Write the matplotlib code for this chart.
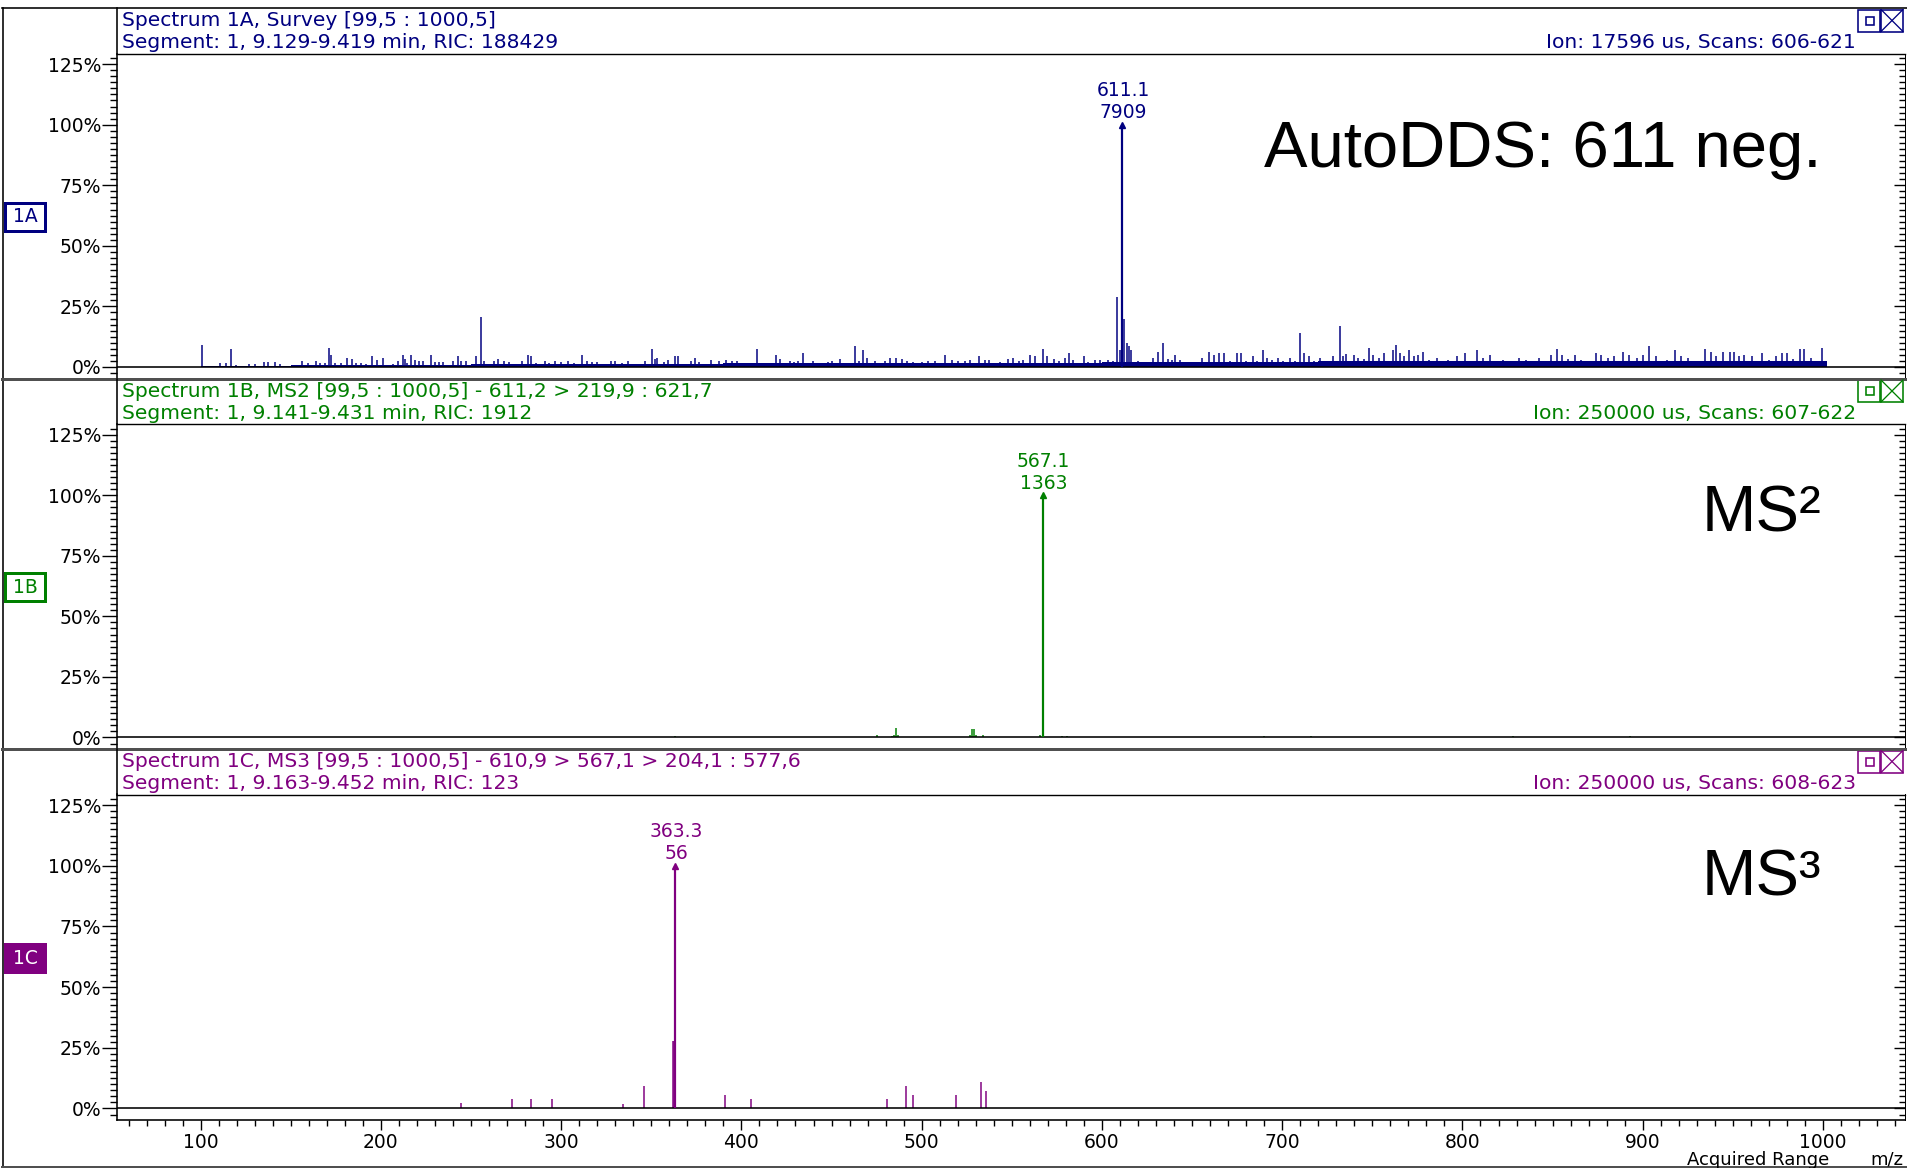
import matplotlib
matplotlib.use("Agg")
import matplotlib.pyplot as plt
from matplotlib.patches import Rectangle
from matplotlib.ticker import MultipleLocator, FuncFormatter, NullLocator

plt.rcParams['font.family'] = ['DejaVu Sans']

# figure size in pixels (saved at 100 dpi)
W, H = 1907, 1168

navy = "#000080"
green = "#008000"
purple = "#800080"
colors = [navy, green, purple]

tags = ["1A", "1B", "1C"]
titles = ["Spectrum 1A, Survey [99,5 : 1000,5]",
          "Spectrum 1B, MS2 [99,5 : 1000,5] - 611,2 > 219,9 : 621,7",
          "Spectrum 1C, MS3 [99,5 : 1000,5] - 610,9 > 567,1 > 204,1 : 577,6"]
segments = ["Segment: 1, 9.129-9.419 min, RIC: 188429",
            "Segment: 1, 9.141-9.431 min, RIC: 1912",
            "Segment: 1, 9.163-9.452 min, RIC: 123"]
ion_info = ["Ion: 17596 us, Scans: 606-621",
            "Ion: 250000 us, Scans: 607-622",
            "Ion: 250000 us, Scans: 608-623"]
big_labels = ["AutoDDS: 611 neg.", "MS²", "MS³"]
big_label_y = [167, 532, 895]

# base peak of each spectrum (m/z, counts), drawn at 100 %
base_mz = [611.1, 567.1, 363.3]
base_counts = [7909, 1363, 56]

# survey scan (1A), relative intensity in %
survey_mz = [100.7, 110.9, 114.0, 116.6, 119.4, 126.8, 130.0, 135.3, 137.4, 141.0,
             143.8, 150.7, 156.2, 159.3, 164.0, 166.0, 169.2, 171.2, 172.5, 174.5,
             177.8, 181.0, 184.0, 186.3, 188.8, 192.0, 195.2, 198.0, 201.1, 203.9,
             206.8, 209.6, 212.0, 213.2, 214.5, 216.7, 218.7, 221.3, 223.4, 227.6,
             229.8, 232.5, 234.4, 240.0, 242.5, 244.2, 247.2, 252.5, 255.3, 257.0,
             259.5, 262.7, 265.2, 268.4, 271.2, 275.5, 278.2, 281.4, 283.3, 286.0,
             291.0, 293.4, 296.7, 299.9, 303.7, 307.3, 311.5, 314.3, 316.9, 320.0,
             327.5, 329.6, 333.8, 337.0, 340.2, 346.6, 350.4, 351.9, 353.4, 357.2,
             359.3, 363.1, 365.0, 368.8, 372.0, 374.5, 376.3, 383.1,
             387.5, 391.7, 394.9, 397.4, 404.4, 408.5, 415.1, 419.3, 421.4, 423.6,
             426.7, 428.9, 431.4, 434.0, 439.5, 442.0, 448.0, 450.1, 454.8, 458.6,
             462.8, 465.4, 467.7, 469.8, 473.9, 479.8, 482.6, 485.8, 489.0, 491.9,
             495.1, 500.0, 503.6, 507.4, 509.5, 513.1, 517.0, 520.1, 523.8, 526.9,
             532.0, 535.0, 537.6, 543.5, 547.7, 550.9, 554.1, 556.2, 560.1, 562.6,
             567.5, 569.4, 573.2, 576.4, 579.6, 581.7, 583.8, 589.8, 592.3, 596.2,
             599.1, 603.4, 606.1, 608.3, 610.0, 612.1, 614.0, 615.0, 616.3, 619.9,
             623.1, 625.9, 628.4, 631.0, 633.7, 636.5, 638.6, 640.7, 643.3, 649.6,
             655.6, 659.6, 662.4, 664.9, 667.7, 670.9, 675.1, 677.3, 679.8, 683.6,
             686.2, 689.4, 691.5, 694.2, 697.4, 700.6, 704.2, 707.0, 710.0, 712.3,
             715.0, 717.6,
             721.0, 723.5, 725.6, 728.1, 731.8, 733.5, 735.6, 739.8, 742.3, 745.4,
             748.1, 750.6, 753.8, 756.5, 759.0, 761.5, 763.1, 765.2, 767.7, 770.5,
             773.2, 775.3, 778.2, 781.5, 786.1, 792.0, 797.0, 801.2, 804.5, 808.0,
             811.2, 815.3, 819.5, 822.7, 827.5, 831.4, 835.2, 839.4, 842.5, 849.2,
             852.3, 855.4, 858.8, 862.3, 865.5, 869.6, 874.2, 876.9, 880.5, 884.3,
             888.9, 892.6, 896.8, 900.1, 903.7, 907.2, 913.5, 917.7, 921.4, 925.0,
             930.6, 934.4, 938.1, 940.6, 944.4, 948.6, 950.6, 953.2, 956.3, 960.5,
             966.3, 969.9, 974.0, 977.4, 980.3, 983.4, 987.0, 989.7, 993.2, 997.0,
             999.7, 1001.2]
survey_int = [9.2, 1.6, 1.6, 7.4, 1.0, 1.4, 1.4, 1.9, 1.9, 1.9,
              1.4, 0.8, 2.6, 1.6, 2.6, 1.6, 1.6, 8.0, 5.1, 1.6,
              1.6, 3.7, 3.3, 1.6, 1.6, 1.4, 4.4, 3.0, 3.7, 1.0,
              1.4, 2.3, 5.0, 3.3, 1.6, 5.0, 3.0, 2.6, 2.6, 5.0,
              1.9, 1.9, 1.9, 2.6, 4.4, 2.3, 2.3, 4.4, 20.7, 2.3,
              1.4, 2.3, 3.3, 2.6, 1.9, 1.4, 2.6, 5.0, 4.4, 1.6,
              2.3, 1.6, 2.6, 1.9, 2.6, 1.6, 5.0, 2.3, 1.9, 1.9,
              2.3, 2.3, 1.6, 2.3, 1.4, 2.3, 7.4, 3.3, 3.7, 1.9,
              3.0, 4.4, 4.4, 1.4, 2.3, 3.7, 1.9, 3.0,
              2.6, 3.0, 2.3, 2.6, 1.4, 7.4, 1.0, 5.0, 3.3, 1.6,
              2.6, 1.9, 2.6, 5.8, 2.6, 1.4, 1.9, 2.6, 3.3, 1.6,
              8.5, 2.3, 6.9, 3.7, 2.6, 2.3, 3.7, 3.7, 3.3, 2.6,
              1.9, 1.9, 2.6, 2.3, 1.6, 5.0, 3.0, 2.3, 2.6, 3.0,
              4.4, 3.0, 3.0, 1.9, 3.3, 3.7, 2.6, 3.0, 5.0, 4.4,
              7.4, 4.4, 3.3, 2.3, 3.7, 5.8, 3.0, 4.4, 1.9, 3.0,
              3.0, 3.0, 2.6, 28.9, 6.9, 20.0, 9.9, 8.8, 6.9, 2.3,
              1.4, 1.9, 3.7, 6.3, 9.9, 3.3, 3.0, 5.0, 3.0, 1.4,
              3.7, 6.3, 5.0, 5.8, 5.8, 2.6, 5.8, 5.8, 2.6, 4.4,
              2.6, 6.9, 3.7, 3.0, 3.7, 2.6, 3.7, 2.6, 14.0, 5.8,
              4.4, 2.6,
              3.7, 2.3, 2.3, 4.4, 17.1, 4.4, 5.5, 5.0, 3.7, 3.3,
              7.9, 5.0, 3.7, 5.8, 2.3, 6.9, 9.2, 5.8, 4.4, 6.9,
              4.4, 5.0, 6.3, 3.0, 3.7, 3.0, 4.4, 5.8, 2.6, 6.9,
              3.7, 5.0, 2.3, 3.0, 2.6, 3.7, 3.0, 2.3, 3.7, 5.0,
              7.4, 5.0, 3.3, 5.0, 3.0, 2.3, 5.8, 5.0, 3.7, 4.4,
              6.3, 5.0, 3.7, 5.0, 8.5, 4.4, 3.0, 6.9, 4.4, 3.7,
              2.6, 7.4, 6.3, 4.4, 6.3, 6.3, 6.3, 4.4, 5.0, 4.4,
              5.8, 3.0, 4.4, 5.8, 5.8, 3.3, 7.4, 7.4, 3.7, 2.6,
              7.9, 2.6]

# low-level chemical noise under the survey scan (step levels, %)
floor_edges = [100, 150, 250, 390, 600, 720, 860, 1002]
floor_levels = [0.3, 1.0, 1.3, 1.6, 1.9, 2.5, 2.6]

# MS2 of 611 (1B)
ms2_mz = [363.0, 407.0, 442.6, 462.0, 469.5, 475.0, 483.5, 484.5, 485.7, 487.0,
          492.5, 498.6, 508.3, 513.8, 523.0, 526.8, 528.0, 528.8, 530.0, 534.2,
          547.1, 550.8, 565.6, 577.6, 580.4, 584.1, 590.6, 690.0, 716.0, 828.0,
          893.0, 910.0]
ms2_int = [0.7, 0.4, 0.4, 0.4, 0.4, 1.1, 0.8, 1.0, 4.1, 0.9,
           0.4, 0.4, 0.4, 0.4, 0.4, 1.0, 3.4, 3.4, 1.0, 1.0,
           0.4, 0.4, 1.0, 0.5, 0.5, 0.4, 0.4, 0.6, 0.5, 0.6,
           0.6, 0.4]

# MS3 611 > 567 (1C)
ms3_mz = [244.5, 272.8, 283.4, 294.8, 334.3, 345.9, 362.2, 362.6, 390.8, 405.5,
          480.6, 491.5, 495.4, 519.1, 532.8, 535.9]
ms3_int = [2.1, 3.9, 3.9, 3.8, 2.0, 9.3, 27.9, 27.9, 5.7, 3.8,
           3.8, 9.3, 5.7, 5.7, 11.0, 7.4]

spectra = [(survey_mz, survey_int), (ms2_mz, ms2_int), (ms3_mz, ms3_int)]


def pt(px):
    return px * 0.72


AX_L, AX_R = 117, 1905
PITCH = 370.5
HEAD = 45.5
tops = [8 + i * PITCH for i in range(3)]
HEAD_FS = 14.6

fig = plt.figure(figsize=(W / 100, H / 100), dpi=100)

axes = []
for i in range(3):
    top = tops[i] + HEAD
    bot = tops[i] + PITCH if i < 2 else 1120
    ax = fig.add_axes([AX_L / W, 1 - bot / H, (AX_R - AX_L) / W, (bot - top) / H])
    axes.append(ax)
    col = colors[i]
    ax.set_xlim(53.6, 1045.5)
    ax.set_ylim(-4.75, 129.4)

    if i == 0:
        ax.fill_between(floor_edges, floor_levels + [floor_levels[-1]], 0,
                        step='post', color=col, lw=0)
    mz, inten = spectra[i]
    ax.vlines(mz, 0, inten, color=col, lw=pt(1.5))
    ax.axhline(0, color='black', lw=pt(1.6), zorder=3)

    # base peak with its label
    ax.vlines(base_mz[i], 0, 100, color=col, lw=pt(2.2), zorder=4)
    ax.plot(base_mz[i], 100, marker='^', ms=4.5, color=col, mec=col, zorder=4)
    ax.annotate(f"{base_counts[i]}", xy=(base_mz[i], 100), xytext=(1, 12),
                textcoords='offset pixels', ha='center', va='center',
                color=col, fontsize=13.5)
    ax.annotate(f"{base_mz[i]:.1f}", xy=(base_mz[i], 100), xytext=(1, 34),
                textcoords='offset pixels', ha='center', va='center',
                color=col, fontsize=13.5)

    ax.yaxis.set_major_locator(MultipleLocator(25))
    ax.yaxis.set_minor_locator(MultipleLocator(2.5))
    ax.yaxis.set_major_formatter(FuncFormatter(lambda v, p: f"{v:.0f}%"))
    ax.tick_params(axis='y', which='major', direction='out', length=11,
                   width=1, pad=0.5, labelsize=13.5, colors='black')
    ax.tick_params(axis='y', which='minor', direction='out', length=5, width=1)

    sec = ax.secondary_yaxis('right')
    sec.yaxis.set_major_locator(MultipleLocator(25))
    sec.yaxis.set_minor_locator(MultipleLocator(2.5))
    sec.tick_params(axis='y', which='major', direction='in', length=8,
                    width=1, labelright=False)
    sec.tick_params(axis='y', which='minor', direction='in', length=4, width=1)
    sec.spines['right'].set_linewidth(pt(1))

    ax.spines['left'].set_linewidth(pt(1.6))
    ax.spines['top'].set_linewidth(pt(1.4))
    ax.spines['right'].set_linewidth(pt(1))
    if i < 2:
        ax.xaxis.set_major_locator(NullLocator())
        ax.xaxis.set_minor_locator(NullLocator())
        ax.spines['bottom'].set_color('#505050')
        ax.spines['bottom'].set_linewidth(pt(3))
    else:
        ax.xaxis.set_major_locator(MultipleLocator(100))
        ax.xaxis.set_minor_locator(MultipleLocator(10))
        ax.xaxis.set_major_formatter(FuncFormatter(lambda v, p: f"{v:.0f}"))
        ax.tick_params(axis='x', which='major', direction='out', length=7,
                       width=1, pad=2.5, labelsize=13.5)
        ax.tick_params(axis='x', which='minor', direction='out', length=4, width=1)
        ax.spines['bottom'].set_linewidth(pt(1.6))

# overlay in pixel coordinates for frames, headers and labels
cv = fig.add_axes([0, 0, 1, 1], zorder=10)
cv.set_xlim(0, W)
cv.set_ylim(H, 0)
cv.axis('off')
cv.patch.set_alpha(0)

cv.plot([2.5, 2.5], [8, H], color='black', lw=pt(1.6))
cv.plot([2, W], [8, 8], color='black', lw=pt(1.6))
cv.plot([2, AX_R], [H - 1.5, H - 1.5], color='#505050', lw=pt(3))
for i in range(2):
    y = tops[i] + PITCH
    cv.plot([2, AX_R], [y, y], color='#505050', lw=pt(3))

for i in range(3):
    t = tops[i]
    col = colors[i]
    cv.plot([AX_L, AX_L], [t, t + HEAD], color='black', lw=pt(1.6))
    cv.text(122, t + 12.7, titles[i], color=col, fontsize=HEAD_FS, va='center', ha='left')
    cv.text(122, t + 34.7, segments[i], color=col, fontsize=HEAD_FS, va='center', ha='left')
    cv.text(1856, t + 34.7, ion_info[i], color=col, fontsize=HEAD_FS, va='center', ha='right')

    # window buttons
    cv.add_patch(Rectangle((1858, t + 1.5), 22, 22, fill=False, ec=col, lw=pt(1.6)))
    cv.add_patch(Rectangle((1865.5, t + 8.5), 8, 8, fill=False, ec=col, lw=pt(1.6)))
    cv.add_patch(Rectangle((1881, t + 1.5), 22, 22, fill=False, ec=col, lw=pt(1.6)))
    cv.plot([1881, 1903], [t + 1.5, t + 23.5], color=col, lw=pt(1.3))
    cv.plot([1881, 1903], [t + 23.5, t + 1.5], color=col, lw=pt(1.3))

    # spectrum tag box
    filled = i == 2
    cv.add_patch(Rectangle((5, t + 194.5), 40, 28, fill=filled,
                           fc=col, ec=col, lw=pt(3)))
    cv.text(25, t + 209, tags[i], color='white' if filled else col,
            fontsize=13.5, ha='center', va='center')

    cv.text(1821, big_label_y[i], big_labels[i], color='black', fontsize=47,
            family='Liberation Sans', ha='right', va='baseline')

cv.text(1829, 1165, "Acquired Range", fontsize=13, ha='right', va='baseline')
cv.text(1903, 1165, "m/z", fontsize=13, ha='right', va='baseline')

fig.savefig("out.png", dpi=100)
